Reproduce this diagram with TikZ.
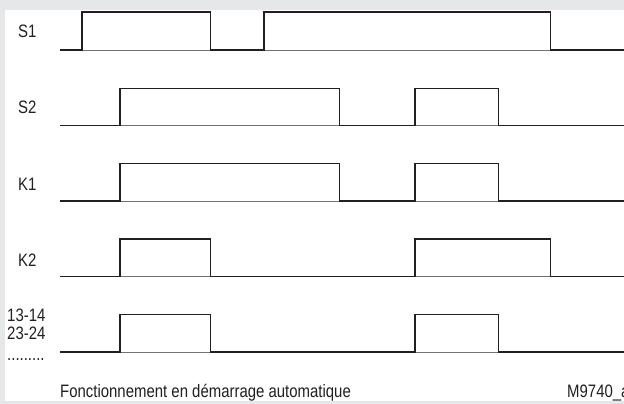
\documentclass[tikz,border=0pt]{standalone}
\usepackage{fontspec}
\setmainfont{Liberation Sans}[FakeStretch=0.83]
\definecolor{panelgray}{HTML}{E6E7E9}
\definecolor{inkgray}{HTML}{231F20}
\begin{document}
\begin{tikzpicture}
[x=1pt,y=-1pt,
 wave/.style={line width=1.8pt,draw=inkgray,line join=miter},
 base/.style={line width=0.8pt,draw=black!55},
 siglabel/.style={anchor=west,inner sep=0pt,text=inkgray,font=\fontsize{18}{20}\selectfont},
 caption/.style={anchor=base west,inner sep=0pt,text=inkgray,font=\fontsize{18}{20}\selectfont}]
\fill[panelgray] (0,0) rectangle (624,404);
\fill[white] (5,10) rectangle (624,401);
\useasboundingbox (0,0) rectangle (624,404);

% low level / high level / rise, fall, rise, fall
\foreach \lo/\hi/\ra/\fa/\rb/\fb in {50/12/82/210.5/264/550.5, 125.5/88.5/120/339.5/415/498.5, 201/163.5/120/339.5/415/498.5, 276.5/239/120/210.5/415/550.5, 352/314.5/120/210.5/415/498.5}
{
  \draw[base] (60,\lo) -- (624,\lo);
  \draw[wave] (60,\lo) -- (\ra,\lo) -- (\ra,\hi) -- (\fa,\hi) -- (\fa,\lo) -- (\rb,\lo) -- (\rb,\hi) -- (\fb,\hi) -- (\fb,\lo) -- (624,\lo);
}

\node[siglabel] (s1) at (18,31) {S1};
\node[siglabel] (s2) at (18,107.5) {S2};
\node[siglabel] (k1) at (18,184) {K1};
\node[siglabel] (k2) at (18,260) {K2};
\node[siglabel] (c1) at (7,315) {13-14};
\node[siglabel] (c2) at (7,333) {23-24};
\node[caption] (c3) at (7,360) {.........};

\node[caption] (title) at (60,397) {Fonctionnement en démarrage automatique};
\node[caption] (ref) at (567,397) {M9740\_a};
\end{tikzpicture}
\end{document}
